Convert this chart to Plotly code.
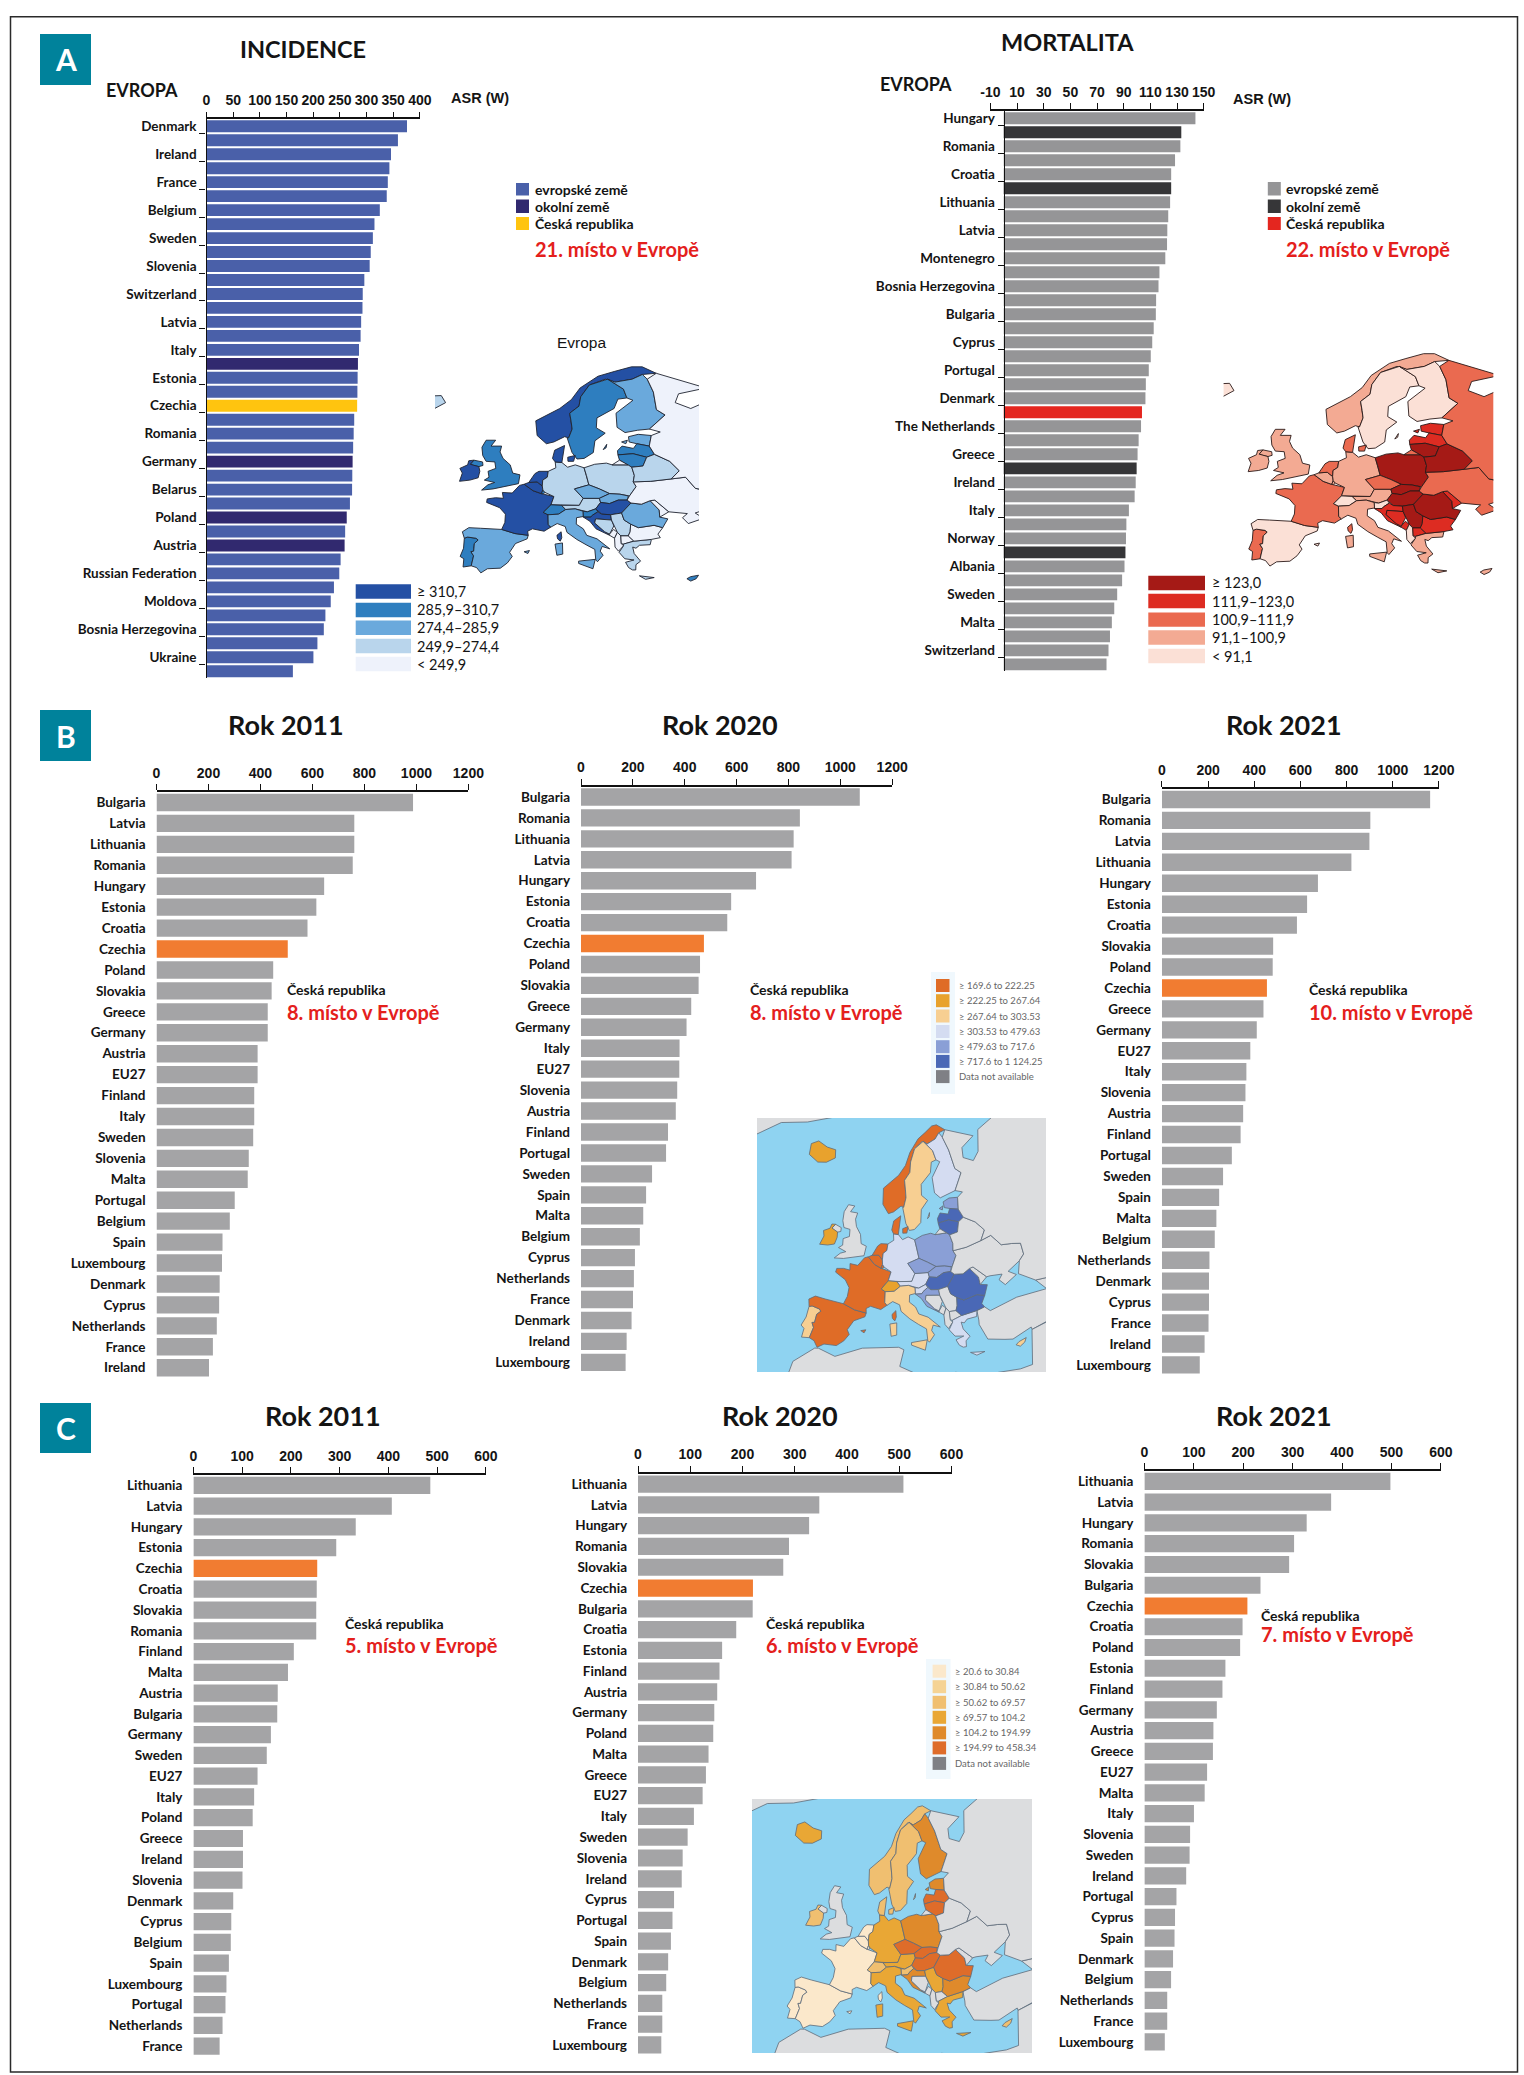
import numpy as np
import plotly.graph_objects as go

W, H = 1524, 2075
TXT = "Lato"
NUM = "Liberation Sans"
INK = "#141414"
RED = "#e4201c"

# ---------- panel A ----------
inc_labels = ["Denmark","Ireland","France","Belgium","Sweden","Slovenia","Switzerland","Latvia","Italy","Estonia",
              "Czechia","Romania","Germany","Belarus","Poland","Austria","Russian Federation","Moldova",
              "Bosnia Herzegovina","Ukraine"]
inc_values = [376,359,346,343,340,338,325,315,312,308,306,296,293,292.5,290,289,286,284,283.4,283,282.5,277,276,275,
              274,273.4,273,269,263,260,259,251.5,249,239,233,223,220,208,200.5,162]
inc_neighbours = [17,24,28,30]
inc_cz = 20
inc_ticks = [0,50,100,150,200,250,300,350,400]

mor_labels = ["Hungary","Romania","Croatia","Lithuania","Latvia","Montenegro","Bosnia Herzegovina","Bulgaria","Cyprus",
              "Portugal","Denmark","The Netherlands","Greece","Ireland","Italy","Norway","Albania","Sweden","Malta",
              "Switzerland"]
mor_values = [143.8,133.2,132.5,128.5,125.6,125.6,124.8,123.4,122.7,122.5,121.2,116.8,116.1,114.3,114.1,112.5,111.4,
              110.3,108.8,106.6,106.3,103.7,103,101.2,100.4,99.7,99,98.2,93.9,92,91.7,91.3,90.6,88.8,85.1,82.9,81.1,
              79.7,78.6,77.1]
mor_neighbours = [1,5,25,31]
mor_cz = 21
mor_ticks = [-10,10,30,50,70,90,110,130,150]

# ---------- panel B ----------
b11_labels = ["Bulgaria","Latvia","Lithuania","Romania","Hungary","Estonia","Croatia","Czechia","Poland","Slovakia",
              "Greece","Germany","Austria","EU27","Finland","Italy","Sweden","Slovenia","Malta","Portugal","Belgium",
              "Spain","Luxembourg","Denmark","Cyprus","Netherlands","France","Ireland"]
b11_values = [987,761,761,755,645,615,581,505,449,443,428,428,389,389,376,376,372,355,351,301,282,254,252,243,241,232,217,202]
b20_labels = ["Bulgaria","Romania","Lithuania","Latvia","Hungary","Estonia","Croatia","Czechia","Poland","Slovakia",
              "Greece","Germany","Italy","EU27","Slovenia","Austria","Finland","Portugal","Sweden","Spain","Malta",
              "Belgium","Cyprus","Netherlands","France","Denmark","Ireland","Luxembourg"]
b20_values = [1075,844,820,812,675,579,564,474,459,453.5,425,407,380,379,371,365.5,335.5,328,274,251,240,227,208,204,200.5,195,176,172]
b21_labels = ["Bulgaria","Romania","Latvia","Lithuania","Hungary","Estonia","Croatia","Slovakia","Poland","Czechia",
              "Greece","Germany","EU27","Italy","Slovenia","Austria","Finland","Portugal","Sweden","Spain","Malta",
              "Belgium","Netherlands","Denmark","Cyprus","France","Ireland","Luxembourg"]
b21_values = [1162,903,899,821,676,629,585,482,480,455,440,411,383,366,362,352,341,303,265,248,236,229,206,204,204,202,185,164]
b_ticks = [0,200,400,600,800,1000,1200]

# ---------- panel C ----------
c11_labels = ["Lithuania","Latvia","Hungary","Estonia","Czechia","Croatia","Slovakia","Romania","Finland","Malta",
              "Austria","Bulgaria","Germany","Sweden","EU27","Italy","Poland","Greece","Ireland","Slovenia","Denmark",
              "Cyprus","Belgium","Spain","Luxembourg","Portugal","Netherlands","France"]
c11_values = [486,407,333,293,254,253,252,252,206,194,173,172,159,150.5,131.6,124.6,121.6,101.7,101.7,100.7,81.7,77.7,76.7,72.8,67.8,65.8,59.8,53.8]
c20_labels = ["Lithuania","Latvia","Hungary","Romania","Slovakia","Czechia","Bulgaria","Croatia","Estonia","Finland",
              "Austria","Germany","Poland","Malta","Greece","EU27","Italy","Sweden","Slovenia","Ireland","Cyprus",
              "Portugal","Spain","Denmark","Belgium","Netherlands","France","Luxembourg"]
c20_values = [508,347,327.5,289,278,220,219.5,188,161,156,151.6,146,144,135,130,123.7,107,95,85.5,83.7,69,66,63,57.7,54,46.5,46.5,44.6]
c21_labels = ["Lithuania","Latvia","Hungary","Romania","Slovakia","Bulgaria","Czechia","Croatia","Poland","Estonia",
              "Finland","Germany","Austria","Greece","EU27","Malta","Italy","Slovenia","Sweden","Ireland","Portugal",
              "Cyprus","Spain","Denmark","Belgium","Netherlands","France","Luxembourg"]
c21_values = [498,378,328.5,303,293,235,208.5,198.7,193.8,164,158,146.6,139.7,138.7,126.9,122,100.3,92.5,91.5,84.6,64.9,62,61,58,54,46.2,46.2,41.3]
c_ticks = [0,100,200,300,400,500,600]

# ---------- legend texts ----------
inc_classes = ["≥ 310,7","285,9–310,7","274,4–285,9","249,9–274,4","< 249,9"]
inc_class_colors = ["#2450a4","#2e7ebf","#6aa9dc","#b9d5ec","#eef2fb"]
mor_classes = ["≥ 123,0","111,9–123,0","100,9–111,9","91,1–100,9","< 91,1"]
mor_class_colors = ["#a51a16","#dd2c22","#ea6a50","#f3aa93","#fbe0d6"]
b_classes = ["≥ 169.6 to 222.25","≥ 222.25 to 267.64","≥ 267.64 to 303.53","≥ 303.53 to 479.63","≥ 479.63 to 717.6","≥ 717.6 to 1 124.25","Data not available"]
b_class_colors = ["#df6c27","#e8a22d","#f7cf92","#d4dcf1","#8a9fd6","#4a68b6","#7f8085"]
c_classes = ["≥ 20.6 to 30.84","≥ 30.84 to 50.62","≥ 50.62 to 69.57","≥ 69.57 to 104.2","≥ 104.2 to 194.99","≥ 194.99 to 458.34","Data not available"]
c_class_colors = ["#fbe8cb","#f5d394","#f0bf70","#e9a735","#df8a2b","#de6c2a","#7f8085"]

# ---------- simplified country outlines (lon, lat) ----------
COUNTRIES = {
"Portugal":[[(-8.8,41.9),(-8.2,42.1),(-6.6,41.9),(-6.2,41.6),(-6.9,41.0),(-7.0,39.7),(-7.5,39.6),(-7.0,38.9),(-7.4,37.2),(-8.9,37.0),(-8.8,38.4),(-9.5,38.8),(-8.9,40.2)]],
"Spain":[[(-9.2,43.0),(-8.0,43.7),(-5.8,43.6),(-3.8,43.5),(-1.8,43.4),(0.7,42.7),(3.2,42.4),(3.0,41.8),(0.8,41.0),(-0.3,39.5),(0.2,38.8),(-0.7,37.7),(-2.0,36.8),(-4.4,36.7),(-5.6,36.0),(-6.4,36.9),(-7.4,37.2),(-7.0,38.9),(-7.5,39.6),(-7.0,39.7),(-6.9,41.0),(-6.2,41.6),(-6.6,41.9),(-8.2,42.1),(-8.8,41.9)],
         [(2.4,39.6),(3.4,39.8),(3.1,39.3)]],
"France":[[(-1.8,43.4),(-1.2,44.6),(-1.1,46.0),(-2.2,47.1),(-4.7,48.0),(-4.6,48.6),(-3.0,48.8),(-1.5,48.7),(-1.7,49.7),(0.2,49.6),(1.6,50.9),(2.5,51.1),(4.2,50.0),(5.8,49.5),(8.2,49.0),(7.6,47.6),(6.1,46.3),(7.0,45.9),(7.0,44.2),(7.5,43.8),(6.2,43.1),(4.0,43.5),(3.1,43.1),(3.2,42.4),(0.7,42.7)],
          [(8.6,42.4),(9.4,43.0),(9.5,42.0),(9.2,41.4),(8.7,41.8)]],
"Belgium":[[(2.5,51.1),(3.4,51.4),(5.0,51.5),(6.0,50.8),(6.1,50.1),(5.8,49.5),(4.2,50.0)]],
"Luxembourg":[[(5.8,49.5),(6.1,50.1),(6.5,49.7),(6.2,49.5)]],
"Netherlands":[[(3.4,51.4),(4.6,52.9),(5.4,53.3),(7.2,53.3),(7.0,52.3),(6.1,51.8),(6.0,50.8),(5.0,51.5)]],
"Germany":[[(6.1,50.1),(6.0,50.8),(6.1,51.8),(7.0,52.3),(7.2,53.3),(8.7,53.9),(8.6,54.9),(9.9,54.8),(11.0,54.0),(12.5,54.4),(14.2,53.9),(14.6,52.6),(15.0,51.0),(12.2,50.3),(13.8,48.7),(13.0,47.5),(10.5,47.5),(7.6,47.6),(8.2,49.0),(6.5,49.7)]],
"Switzerland":[[(6.1,46.3),(7.6,47.6),(9.6,47.5),(10.4,46.8),(9.0,46.0),(7.0,45.9)]],
"Austria":[[(9.6,47.5),(10.5,47.5),(13.0,47.5),(13.8,48.7),(16.9,48.7),(17.1,48.0),(16.1,46.9),(14.5,46.4),(12.2,46.9),(10.4,46.8)]],
"Italy":[[(7.0,45.9),(9.0,46.0),(10.4,46.8),(12.2,46.9),(13.7,46.5),(13.7,45.6),(12.4,45.4),(12.3,44.3),(13.6,43.5),(14.2,42.4),(16.1,41.8),(18.4,40.1),(17.0,40.5),(16.6,39.7),(17.1,39.0),(16.0,37.9),(15.7,38.2),(15.6,40.0),(14.0,40.8),(12.3,41.7),(10.5,42.9),(10.2,43.9),(8.7,44.4),(7.5,43.8),(7.0,44.2)],
         [(12.5,38.0),(15.6,38.3),(15.1,36.7),(12.5,37.6)],
         [(8.2,40.9),(9.6,41.1),(9.6,39.2),(8.5,39.0)]],
"UK":[[(-5.7,50.1),(-3.5,50.3),(1.4,51.2),(1.7,52.7),(0.3,53.0),(-0.2,54.4),(-1.6,55.5),(-2.2,56.6),(-1.9,57.6),(-4.0,57.6),(-3.1,58.6),(-5.0,58.6),(-5.8,57.4),(-5.6,56.0),(-4.9,55.0),(-3.2,54.9),(-3.0,53.8),(-4.5,53.3),(-4.3,52.3),(-5.2,51.8),(-3.2,51.4),(-4.5,51.0)],
      [(-7.3,55.2),(-5.6,54.9),(-5.5,54.3),(-6.3,54.1),(-7.3,54.3),(-8.0,54.5)]],
"Ireland":[[(-8.0,54.5),(-7.3,54.3),(-6.3,54.1),(-6.1,53.3),(-6.4,52.2),(-8.0,51.8),(-10.0,51.6),(-9.5,53.0),(-10.0,53.8),(-8.5,54.4),(-8.3,55.1),(-7.3,55.2)]],
"Iceland":[[(-22.7,63.9),(-24.0,65.5),(-22.0,66.4),(-18.0,66.1),(-14.6,66.2),(-13.6,65.0),(-16.0,63.9),(-18.8,63.4)]],
"Norway":[[(5.0,61.9),(5.2,59.4),(7.0,58.0),(8.5,58.3),(10.7,59.2),(11.5,59.0),(12.3,60.5),(12.2,61.7),(12.0,63.2),(14.0,64.4),(14.5,66.0),(16.5,68.0),(20.0,69.0),(22.0,68.5),(25.7,69.0),(28.0,69.8),(31.0,70.0),(28.0,71.1),(25.7,71.1),(22.0,70.3),(18.5,69.5),(14.5,67.5),(12.5,65.5),(10.0,64.0),(7.0,62.8)]],
"Sweden":[[(11.2,59.0),(12.0,56.5),(12.9,55.4),(14.3,55.5),(16.2,56.5),(16.7,58.5),(18.9,59.8),(17.2,60.7),(17.5,62.4),(21.2,64.0),(22.2,65.6),(24.1,65.8),(23.6,67.3),(20.5,69.0),(16.5,68.0),(14.5,66.0),(14.0,64.4),(12.0,63.2),(12.2,61.7),(12.3,60.5),(11.5,59.0)],
          [(18.2,57.0),(19.0,57.9),(18.8,57.3)]],
"Finland":[[(22.9,59.9),(25.5,60.3),(27.9,60.5),(31.5,62.9),(29.9,63.8),(29.8,66.8),(28.9,69.0),(28.0,69.8),(25.7,69.0),(22.0,68.5),(20.5,69.0),(23.6,67.3),(24.1,65.8),(25.3,65.4),(21.5,63.2),(21.4,60.8)]],
"Denmark":[[(8.1,55.5),(8.6,56.9),(10.6,57.7),(10.3,56.3),(9.9,54.8),(8.6,54.9)],[(11.1,55.7),(12.6,56.0),(12.2,55.0),(11.1,55.0)]],
"Estonia":[[(23.5,59.2),(25.5,59.6),(28.1,59.4),(27.4,57.6),(25.0,58.0),(23.5,58.3)],[(22.0,58.3),(23.2,58.6),(22.8,58.0)]],
"Latvia":[[(21.0,56.8),(22.0,57.6),(24.2,57.2),(25.0,58.0),(27.4,57.6),(28.2,56.2),(26.6,55.7),(24.0,56.3),(21.0,56.1)]],
"Lithuania":[[(21.0,56.1),(24.0,56.3),(26.6,55.7),(25.7,54.2),(23.5,54.0),(22.8,54.4),(21.2,55.2)]],
"Poland":[[(14.2,53.9),(16.3,54.5),(18.6,54.7),(19.7,54.4),(22.8,54.4),(23.5,54.0),(23.9,52.6),(23.6,51.5),(24.1,50.7),(22.7,49.1),(20.9,49.4),(18.9,49.5),(17.0,50.3),(15.0,51.0),(14.6,52.6)]],
"Czechia":[[(12.2,50.3),(15.0,51.0),(17.0,50.3),(18.9,49.5),(16.9,48.7),(13.8,48.7)]],
"Slovakia":[[(16.9,48.7),(18.9,49.5),(20.9,49.4),(22.5,49.1),(22.2,48.4),(20.5,48.4),(18.8,47.8),(17.1,48.0)]],
"Hungary":[[(16.1,46.9),(17.1,48.0),(18.8,47.8),(20.5,48.4),(22.2,48.4),(22.9,47.9),(21.0,46.2),(18.9,45.9),(17.2,46.0)]],
"Slovenia":[[(13.7,46.5),(14.5,46.4),(16.1,46.9),(16.5,46.4),(15.4,45.8),(15.1,45.5),(13.7,45.5)]],
"Croatia":[[(13.7,45.5),(15.1,45.5),(15.4,45.8),(16.5,46.4),(17.2,46.0),(18.9,45.9),(19.0,45.0),(16.0,45.2),(15.8,44.5),(17.6,43.0),(18.5,42.4),(16.0,43.5),(14.9,44.8),(14.2,45.2)]],
"Bosnia":[[(16.0,45.2),(19.0,45.0),(19.4,44.0),(18.5,42.6),(17.6,43.0),(15.8,44.5)]],
"Serbia":[[(19.0,45.0),(18.9,45.9),(21.0,46.2),(21.4,45.0),(22.6,44.3),(22.4,43.0),(22.0,42.3),(20.6,42.3),(20.0,42.9),(19.4,44.0)]],
"Montenegro":[[(18.5,42.4),(18.5,42.6),(19.3,43.4),(20.0,42.9),(19.4,41.9)]],
"Albania":[[(19.4,41.9),(20.0,42.9),(20.6,42.3),(20.6,41.0),(21.0,40.6),(20.0,39.7),(19.4,40.4)]],
"Macedonia":[[(20.6,42.3),(22.0,42.3),(23.0,41.4),(21.0,40.9),(20.6,41.0)]],
"Greece":[[(21.0,40.6),(21.0,40.9),(23.0,41.4),(24.5,41.5),(26.3,41.7),(26.0,40.8),(24.0,40.7),(23.3,40.2),(22.7,40.4),(22.9,39.3),(24.0,38.0),(23.1,37.4),(23.0,36.5),(22.4,36.5),(21.7,36.9),(21.2,37.8),(22.8,38.2),(21.1,38.4),(20.1,39.5)],
          [(23.6,35.5),(26.3,35.2),(24.7,34.9)]],
"Bulgaria":[[(22.6,44.3),(24.0,43.7),(27.0,44.1),(28.6,43.7),(27.6,42.6),(28.0,42.0),(26.3,41.7),(24.5,41.5),(23.0,41.4),(22.0,42.3),(22.4,43.0)]],
"Romania":[[(21.0,46.2),(22.9,47.9),(24.9,47.7),(26.6,48.3),(28.2,46.7),(28.2,45.5),(29.7,45.2),(28.6,43.7),(27.0,44.1),(24.0,43.7),(22.6,44.3),(21.4,45.0)]],
"Moldova":[[(26.6,48.3),(27.5,48.4),(30.0,46.4),(28.2,45.5),(28.2,46.7)]],
"Ukraine":[[(22.9,47.9),(22.2,48.4),(22.7,49.1),(24.1,50.7),(23.6,51.5),(27.0,51.6),(31.0,52.0),(33.8,52.3),(35.5,50.4),(38.0,50.0),(40.0,49.5),(39.7,47.8),(38.2,47.1),(35.0,46.2),(36.5,45.3),(33.5,44.4),(32.5,45.4),(33.5,46.1),(30.8,46.4),(30.0,46.4),(27.5,48.4),(26.6,48.3),(24.9,47.7)]],
"Belarus":[[(23.9,52.6),(23.5,54.0),(25.7,54.2),(26.6,55.7),(28.2,56.2),(31.0,55.0),(32.7,53.4),(31.0,52.0),(27.0,51.6),(23.6,51.5)]],
"Russia":[[(28.1,59.4),(27.4,57.6),(28.2,56.2),(31.0,55.0),(32.7,53.4),(31.0,52.0),(33.8,52.3),(35.5,50.4),(38.0,50.0),(40.0,49.5),(39.7,47.8),(38.2,47.1),(37.0,45.3),(40.0,43.4),(48.0,42.0),(70,40),(70,72),(55,68.5),(44,68),(40,65),(37,64),(34,65),(35,66.5),(41,67.5),(31,70),(28.9,69.0),(29.8,66.8),(29.9,63.8),(31.5,62.9),(27.9,60.5),(30,60)],
          [(19.7,54.4),(22.8,54.4),(21.2,55.2)]],
"Cyprus":[[(32.3,35.0),(33,35.35),(34.5,35.6),(34,35),(33,34.6)]],
}
EXTRA_LAND = {
"Greenland":[[(-45,60),(-43,60),(-38,65.5),(-30,68),(-22,70.5),(-22,75),(-60,75),(-55,65)]],
"Turkey":[[(26.3,41.7),(28,42),(29,41.2),(35,42),(41.5,41.5),(44.8,39.7),(44.8,37.2),(36,36.5),(36,36.9),(32,36),(30.5,36.3),(27.3,37),(26.2,39.5),(26.3,40.2)]],
"Caucasus":[[(41.5,41.5),(40.0,43.4),(48,42),(70,40),(70,30),(44.8,37.2),(44.8,39.7)]],
"Africa":[[(-15,25),(-10,30),(-9.5,33),(-6,35.8),(-5.3,35.9),(-2,35.1),(3,36.9),(10,37.3),(11,36.9),(10.2,34.3),(15,32.3),(20,31),(20.3,32.8),(25,31.7),(32,31.2),(34.3,31.3),(36,36.5),(45,37),(50,25),(-15,20)]],
}

inc_map = {"Norway":0,"Denmark":0,"Ireland":0,"Netherlands":0,"Belgium":0,"France":0,"Hungary":0,"Croatia":0,
           "Sweden":1,"UK":1,"Switzerland":1,"Portugal":1,"Slovenia":1,"Latvia":1,"Lithuania":1,"Cyprus":1,"Luxembourg":1,
           "Finland":2,"Estonia":2,"Spain":2,"Italy":2,"Romania":2,"Czechia":2,"Slovakia":2,
           "Iceland":3,"Germany":3,"Poland":3,"Belarus":3,"Austria":3,"Bosnia":3,"Serbia":3,"Greece":3,
           "Bulgaria":4,"Russia":4,"Ukraine":4,"Moldova":4,"Albania":4,"Montenegro":4,"Macedonia":4}
mor_map = {"Poland":0,"Belarus":0,"Lithuania":0,"Slovakia":0,"Hungary":0,"Romania":0,"Serbia":0,
           "Latvia":1,"Estonia":1,"Moldova":1,"Bulgaria":1,"Croatia":1,"Bosnia":1,"Montenegro":1,"Macedonia":1,
           "Russia":2,"Ukraine":2,"France":2,"Portugal":2,"Denmark":2,"Netherlands":2,"Czechia":2,
           "UK":3,"Germany":3,"Norway":3,"Italy":3,"Ireland":3,"Belgium":3,"Austria":3,"Greece":3,"Luxembourg":3,"Cyprus":3,
           "Sweden":4,"Finland":4,"Spain":4,"Switzerland":4,"Iceland":4,"Slovenia":4,"Albania":4}
b_map = {"France":0,"Spain":0,"Norway":0,"Belgium":0,"Denmark":0,"Netherlands":0,"Luxembourg":0,
         "Iceland":1,"Ireland":1,"Switzerland":1,
         "Sweden":2,"Italy":2,"Portugal":2,"Cyprus":2,
         "Finland":3,"Germany":3,"Austria":3,"Greece":3,"Slovenia":3,
         "Estonia":4,"Poland":4,"Czechia":4,"Slovakia":4,"Croatia":4,
         "Lithuania":5,"Latvia":5,"Hungary":5,"Romania":5,"Bulgaria":5}
c_map = {"France":0,"Spain":0,"Portugal":0,"Belgium":0,"Luxembourg":0,"Netherlands":0,
         "Norway":2,"Sweden":2,"Ireland":2,"Denmark":2,"Slovenia":2,"Cyprus":2,"Switzerland":2,
         "Iceland":3,"Germany":3,"Austria":3,"Italy":3,"Greece":3,"Serbia":3,
         "Finland":4,"Poland":4,"Estonia":4,"Bulgaria":4,"Croatia":4,
         "Latvia":5,"Lithuania":5,"Czechia":5,"Slovakia":5,"Hungary":5,"Romania":5}

# ---------- helpers ----------
fig = go.Figure()
shapes, anns = [], []
layout = {}
_axis = [0]

def fx(px): return px / W
def fy(py): return 1 - py / H

def rect(x0, y0, x1, y1, fill=None, line=None, lw=0, layer="above"):
    shapes.append(dict(type="rect", xref="paper", yref="paper", x0=fx(x0), x1=fx(x1), y0=fy(y0), y1=fy(y1),
                       fillcolor=fill or "rgba(0,0,0,0)", line=dict(color=line or "rgba(0,0,0,0)", width=lw), layer=layer))

def text(x, y, s, size=14, color=INK, family=TXT, weight=700, anchor="left"):
    anns.append(dict(x=fx(x), y=fy(y), xref="paper", yref="paper", text=s, showarrow=False, xanchor=anchor, yanchor="middle",
                     font=dict(size=size, color=color, family=family, weight=weight), xshift=0, yshift=0,
                     borderpad=0, borderwidth=0))

def next_axes():
    _axis[0] += 1
    n = _axis[0]
    s = "" if n == 1 else str(n)
    return s

def barchart(labels, values, colors, px_x, px_y, xr, ticks, width=0.83, alternate=False, zero_line=None, fsize=13.5):
    s = next_axes()
    n = len(values)
    fig.add_trace(go.Bar(x=values, y=list(range(n)), orientation="h", marker=dict(color=colors, line=dict(width=0)),
                         width=width, xaxis="x"+s, yaxis="y"+s, showlegend=False, hoverinfo="skip"))
    layout["xaxis"+s] = dict(domain=[fx(px_x[0]), fx(px_x[1])], range=xr, side="top", anchor="y"+s, tickmode="array", tickvals=ticks,
                             ticktext=[str(t) for t in ticks], automargin=False,
                             ticks="outside", ticklen=6, tickwidth=1.4, tickcolor="#111", showline=True, linecolor="#111", linewidth=1.6,
                             showgrid=False, zeroline=False, fixedrange=True, ticklabelstandoff=1,
                             tickfont=dict(family=NUM, size=14, color=INK, weight=700))
    ya = dict(domain=[fy(px_y[1]), fy(px_y[0])], range=[n-0.5, -0.5], showgrid=False, zeroline=False, fixedrange=True, automargin=False,
              tickfont=dict(family=TXT, size=fsize, color=INK, weight=700), ticklabelstandoff=(6 if alternate else 10), tickmode="array")
    if alternate:
        ya.update(tickvals=list(range(0, n, 2)), ticktext=labels, ticks="", showline=True, linecolor="#111", linewidth=1.4,
                  minor=dict(ticks="outside", tick0=0.5, dtick=2, ticklen=6, tickwidth=1.2, tickcolor="#111", showgrid=False))
    else:
        ya.update(tickvals=list(range(n)), ticktext=labels, ticks="", showline=False)
    if zero_line is not None:
        ya.update(anchor="free", position=fx(zero_line), overlaying=None)
    else:
        ya.update(anchor="x"+s)
    layout["yaxis"+s] = ya

def g_lat(lat):
    return np.interp(lat, [35, 55, 70], [1.0, 0.94, 0.86])

def proj_a(lon, lat):
    return lon * g_lat(lat), lat

def proj_laea(lon, lat):
    l = np.radians(lon - 10.0); p = np.radians(lat); p0 = np.radians(52.0)
    k = np.sqrt(2 / (1 + np.sin(p0)*np.sin(p) + np.cos(p0)*np.cos(p)*np.cos(l)))
    return k*np.cos(p)*np.sin(l), k*(np.cos(p0)*np.sin(p) - np.sin(p0)*np.cos(p)*np.cos(l))

def draw_map(proj, classes, palette, px_x, px_y, xr, yr, default, linec, lw, extra=False):
    s = next_axes()
    items = list(COUNTRIES.items())
    if extra:
        items = list(EXTRA_LAND.items()) + items
    for name, polys in items:
        cl = classes.get(name)
        col = palette[cl] if cl is not None else default
        xs, ys = [], []
        for poly in polys:
            a = np.array(poly + [poly[0]], dtype=float)
            X, Y = proj(a[:, 0], a[:, 1])
            xs += list(X) + [None]; ys += list(Y) + [None]
        fig.add_trace(go.Scatter(x=xs, y=ys, mode="lines", fill="toself", fillcolor=col, line=dict(color=linec, width=lw),
                                 xaxis="x"+s, yaxis="y"+s, showlegend=False, hoverinfo="skip"))
    layout["xaxis"+s] = dict(domain=[fx(px_x[0]), fx(px_x[1])], range=xr, visible=False, fixedrange=True, anchor="y"+s, automargin=False)
    layout["yaxis"+s] = dict(domain=[fy(px_y[1]), fy(px_y[0])], range=yr, visible=False, fixedrange=True, anchor="x"+s, automargin=False)

GREY = "#a4a4a6"; ORANGE = "#f17c31"
def colors_for(labels, grey=GREY):
    return [ORANGE if l == "Czechia" else grey for l in labels]

# ---------- A ----------
BLUE, NAVY, YELLOW = "#4a60a9", "#31296f", "#ffc40f"
inc_cols = [BLUE]*40
for i in inc_neighbours: inc_cols[i] = NAVY
inc_cols[inc_cz] = YELLOW
barchart(inc_labels, inc_values, inc_cols, (206.5, 419.8), (119.3, 678.2), [0, 400], inc_ticks, width=0.85, alternate=True)

G2, DK, RD = "#959597", "#363638", "#e4261f"
mor_cols = [G2]*40
for i in mor_neighbours: mor_cols[i] = DK
mor_cols[mor_cz] = RD
zero = 990.4 + (1203.7-990.4)*10/160
barchart(mor_labels, mor_values, mor_cols, (990.4, 1203.7), (111.2, 671.4), [-10, 150], mor_ticks, width=0.85, alternate=True, zero_line=zero)

# ---------- B ----------
barchart(b11_labels, b11_values, colors_for(b11_labels), (156.5, 468.4), (792, 1378.2), [0, 1200], b_ticks)
barchart(b20_labels, b20_values, colors_for(b20_labels), (581, 892.2), (786.5, 1372.8), [0, 1200], b_ticks)
barchart(b21_labels, b21_values, colors_for(b21_labels), (1161.9, 1438.9), (789, 1375.4), [0, 1200], b_ticks)

# ---------- C ----------
barchart(c11_labels, c11_values, colors_for(c11_labels), (193.4, 485.9), (1475, 2056.6), [0, 600], c_ticks)
barchart(c20_labels, c20_values, colors_for(c20_labels), (638, 951.5), (1473.8, 2055.3), [0, 600], c_ticks)
barchart(c21_labels, c21_values, colors_for(c21_labels), (1144.4, 1440.8), (1471.1, 2052.2), [0, 600], c_ticks)

# ---------- maps ----------
def rng_a(x0, x1, y0, y1, cx, sx, ly, sy):
    return [(x0-cx)/sx, (x1-cx)/sx], [37-(y1-ly)/sy, 37-(y0-ly)/sy]

xr, yr = rng_a(435, 699, 364, 585, 511.2, 5.44, 567, 5.87)
draw_map(proj_a, inc_map, inc_class_colors, (435, 699), (364, 585), xr, yr, "#ffffff", "#1f2430", 0.9)
xr, yr = rng_a(1223.6, 1493.3, 350, 578, 1300.9, 5.55, 560, 6.05)
draw_map(proj_a, mor_map, mor_class_colors, (1223.6, 1493.3), (350, 578), xr, yr, "#ffffff", "#2a1a18", 0.9)

def rng_l(x0, x1, y0, y1, ox, oy, s):
    return [(x0-ox)/s, (x1-ox)/s], [(oy-y1)/s, (oy-y0)/s]

LAND = "#dcdddf"; SEA = "#8fd3f1"
rect(757, 1118, 1046, 1372, fill=SEA, layer="below")
xr, yr = rng_l(757, 1046, 1118, 1372, 898.7, 1252.6, 370)
draw_map(proj_laea, b_map, b_class_colors, (757, 1046), (1118, 1372), xr, yr, LAND, "#5f6b78", 0.8, extra=True)
rect(752, 1799, 1032, 2053, fill=SEA, layer="below")
xr, yr = rng_l(752, 1032, 1799, 2053, 884.7, 1933.6, 370)
draw_map(proj_laea, c_map, c_class_colors, (752, 1032), (1799, 2053), xr, yr, LAND, "#5f6b78", 0.8, extra=True)

# ---------- frame and section badges ----------
rect(10.5, 16.8, 1517.5, 2072, line="#2a2a2a", lw=1.5)
TEAL = "#00829b"
for (y0, y1, letter) in [(34, 85, "A"), (710, 761, "B"), (1403, 1453, "C")]:
    rect(40, y0, 91, y1, fill=TEAL)
    text(65.5, (y0+y1)/2, letter, size=30, color="#ffffff", anchor="center")

# ---------- panel A texts ----------
text(303, 49, "INCIDENCE", size=23.5, anchor="center")
text(1067, 41.5, "MORTALITA", size=23.5, anchor="center")
text(142, 90, "EVROPA", size=18, anchor="center")
text(916, 84, "EVROPA", size=18, anchor="center")
text(480, 98, "ASR (W)", size=14.5, family=NUM, anchor="center")
text(1261.5, 99, "ASR (W)", size=14.5, family=NUM, anchor="center")
text(581.6, 342, "Evropa", size=15.5, family=NUM, anchor="center", weight=400)

for (sx, tx, cols, ys, pl, py) in [
    (516, 534.5, [BLUE, NAVY, YELLOW], [(183, 195.5), (199.5, 213), (217, 230)], "21. místo v Evropě", 249),
    (1267.8, 1285.8, [G2, DK, RD], [(182, 195.5), (199.5, 213), (217, 230)], "22. místo v Evropě", 248.7)]:
    for c, (a, b), t in zip(cols, ys, ["evropské země", "okolní země", "Česká republika"]):
        rect(sx, a, sx+13, b, fill=c)
        text(tx, (a+b)/2, t, size=14)
    text(tx, py, pl, size=20, color=RED)

for names, cols, x0, x1, tx, ycs in [
    (inc_classes, inc_class_colors, 355.7, 411, 417, [591.5, 610, 627.7, 646, 664]),
    (mor_classes, mor_class_colors, 1148.3, 1205, 1212, [583, 601, 619.6, 637.5, 656])]:
    for nm, c, yc in zip(names, cols, ycs):
        rect(x0, yc-7.2, x1, yc+7.2, fill=c)
        text(tx, yc, nm, size=14.5, weight=400)

# ---------- panel B and C texts ----------
for cx, y, t in [(285.7, 724, "Rok 2011"), (720, 724, "Rok 2020"), (1283.6, 724, "Rok 2021"),
                 (323, 1415.5, "Rok 2011"), (780, 1415.5, "Rok 2020"), (1274, 1415.5, "Rok 2021")]:
    text(cx, y, t, size=27, anchor="center")

for x, y1, y2, t in [(286.7, 989, 1012, "8. místo v Evropě"), (749.8, 989, 1012, "8. místo v Evropě"),
                     (1309, 989, 1012, "10. místo v Evropě"), (344.5, 1623, 1645, "5. místo v Evropě"),
                     (766, 1623, 1645, "6. místo v Evropě"), (1261, 1615.8, 1633.5, "7. místo v Evropě")]:
    text(x, y1, "Česká republika", size=14)
    text(x, y2, t, size=20, color=RED)

for names, cols, bx0, bx1, by0, by1, sx, tx, ycs in [
    (b_classes, b_class_colors, 931, 955, 972, 1094, 936, 959, [985.5, 1000.7, 1016, 1031.5, 1046.7, 1061.4, 1076.6]),
    (c_classes, c_class_colors, 926, 950.5, 1659, 1779, 932.6, 955.4, [1671.2, 1686.7, 1702.3, 1717.3, 1732.8, 1747.9, 1763.4])]:
    rect(bx0, by0, bx1, by1, fill="#f0f8fd")
    for nm, c, yc in zip(names, cols, ycs):
        rect(sx, yc-6.5, sx+13.5, yc+6.5, fill=c)
        text(tx, yc, nm, size=9.5, color="#666666", weight=400)

fig.update_layout(width=W, height=H, margin=dict(l=0, r=0, t=0, b=0, autoexpand=False), paper_bgcolor="#ffffff", plot_bgcolor="rgba(0,0,0,0)",
                  shapes=shapes, annotations=anns, showlegend=False, barmode="overlay", **layout)
fig.write_html("out.html", config=dict(displayModeBar=False), post_script="document.body.style.margin='0';")
